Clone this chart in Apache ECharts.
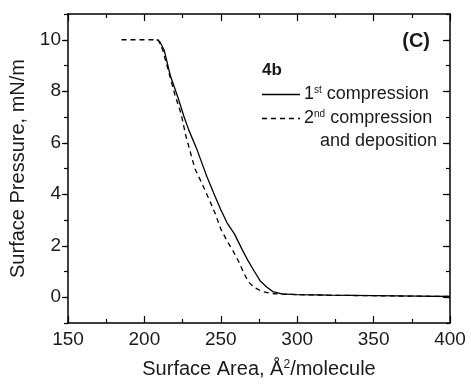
<!DOCTYPE html>
<html><head><meta charset="utf-8">
<script src="https://cdn.jsdelivr.net/npm/echarts@6/dist/echarts.min.js"></script>
<style>html,body{margin:0;padding:0;background:#fff}#c{width:471px;height:384px}</style>
</head><body><div id="c"></div>
<script>
// 1st compression (solid)
var firstX = [208, 210, 213, 217, 222, 226, 229, 234, 238, 241, 246, 250, 254, 259, 264, 268, 272, 276, 280, 284, 290, 300, 320, 350, 380, 400];
var firstY = [10.0, 9.93, 9.59, 8.6, 7.75, 7.0, 6.5, 5.8, 5.15, 4.67, 3.95, 3.4, 2.9, 2.45, 1.85, 1.4, 1.0, 0.62, 0.4, 0.22, 0.13, 0.1, 0.08, 0.06, 0.04, 0.03];
// 2nd compression and deposition (dashed)
var secondX = [185, 209, 212, 215, 220, 224, 227, 230, 233, 237, 242, 246, 250, 254, 258, 262, 265, 268, 272, 277, 282, 286, 300, 320, 350, 380, 400];
var secondY = [10.0, 10.0, 9.6, 8.95, 7.85, 7.13, 6.3, 5.65, 5.0, 4.5, 3.85, 3.3, 2.65, 2.2, 1.8, 1.35, 0.95, 0.6, 0.38, 0.22, 0.16, 0.13, 0.1, 0.08, 0.06, 0.04, 0.03];
var yMajorTicks = [0, 2, 4, 6, 8, 10];
var xTicks = [150, 200, 250, 300, 350, 400];

function pairs(xs, ys) { return xs.map(function (x, i) { return [x, ys[i]]; }); }

var FONT = '"Liberation Sans", Arial, sans-serif';
var FS = 19;     // tick labels
var FT = 20;     // axis titles
var FL = 18;     // legend text
var black = '#000';
var txt = '#1a1a1a';

var chart = echarts.init(document.getElementById('c'), null, { renderer: 'canvas' });
var xBase = { type: 'value', min: 150, max: 400, interval: 50, splitLine: { show: false },
  axisLine: { show: true, onZero: false, lineStyle: { color: black, width: 1.5 } },
  axisTick: { show: true, inside: true, length: 7, lineStyle: { color: black, width: 1.2 } },
  minorTick: { show: true, splitNumber: 2, length: 4, lineStyle: { color: black, width: 1.2 } } };
var yBase = { type: 'value', min: -1, max: 11, splitLine: { show: false } };

chart.setOption({
  animation: false,
  backgroundColor: '#fff',
  grid: { left: 67, right: 21, top: 14, bottom: 61, containLabel: false },
  xAxis: [
    Object.assign({}, xBase, { position: 'bottom',
      axisLabel: { show: true, margin: 7, color: txt, fontSize: FS, fontFamily: FONT },
      name: '{n|Surface Area, Å}{s|2}{n|/molecule}', nameLocation: 'middle', nameGap: 36,
      nameTextStyle: { rich: { n: { fontSize: FT, fontFamily: FONT, color: txt }, s: { fontSize: 12, fontFamily: FONT, color: txt, verticalAlign: 'top' } } } }),
    Object.assign({}, xBase, { position: 'top', axisLabel: { show: false } })
  ],
  yAxis: [
    Object.assign({}, yBase, { position: 'left', interval: 1,
      axisLine: { show: true, onZero: false, lineStyle: { color: black, width: 1.5 } },
      axisTick: { show: true, inside: false, length: 4, lineStyle: { color: black, width: 1.2 } },
      axisLabel: { show: true, margin: 7, color: txt, fontSize: FS, fontFamily: FONT, customValues: yMajorTicks },
      name: 'Surface Pressure, mN/m', nameLocation: 'middle', nameGap: 40,
      nameTextStyle: { fontSize: FT, fontFamily: FONT, color: txt } }),
    Object.assign({}, yBase, { position: 'left',
      axisLine: { show: false },
      axisTick: { show: true, inside: false, length: 6, customValues: yMajorTicks, lineStyle: { color: black, width: 1.2 } },
      axisLabel: { show: false } }),
    Object.assign({}, yBase, { position: 'right', interval: 1,
      axisLine: { show: true, onZero: false, lineStyle: { color: black, width: 1.5 } },
      axisTick: { show: true, inside: true, length: 4, lineStyle: { color: black, width: 1.2 } },
      axisLabel: { show: false } }),
    Object.assign({}, yBase, { position: 'right',
      axisLine: { show: false },
      axisTick: { show: true, inside: true, length: 7, customValues: yMajorTicks, lineStyle: { color: black, width: 1.2 } },
      axisLabel: { show: false } })
  ],
  series: [
    { name: '1st compression', type: 'line', data: pairs(firstX, firstY), showSymbol: false, symbol: 'none',
      lineStyle: { color: black, width: 1.3, type: 'solid' }, z: 3 },
    { name: '2nd compression and deposition', type: 'line', data: pairs(secondX, secondY), showSymbol: false, symbol: 'none',
      lineStyle: { color: black, width: 1.3, type: [5, 4] }, z: 2 }
  ],
  graphic: [
    { type: 'text', x: 430, y: 41, style: { text: '(C)', fontSize: 20, fontWeight: 'bold', fontFamily: FONT, fill: txt, align: 'right', verticalAlign: 'middle' } },
    { type: 'text', x: 262, y: 70, style: { text: '4b', fontSize: 17, fontWeight: 'bold', fontFamily: FONT, fill: txt, align: 'left', verticalAlign: 'middle' } },
    { type: 'line', shape: { x1: 262, y1: 94.5, x2: 300, y2: 94.5 }, style: { stroke: black, lineWidth: 1.3 } },
    { type: 'text', x: 304, y: 94, style: { text: '1{s|st} compression', fontSize: FL, fontFamily: FONT, fill: txt, align: 'left', verticalAlign: 'middle',
      rich: { s: { fontSize: 10, fontFamily: FONT, fill: txt, verticalAlign: 'top' } } } },
    { type: 'line', shape: { x1: 262, y1: 118.5, x2: 300, y2: 118.5 }, style: { stroke: black, lineWidth: 1.3, lineDash: [5, 4] } },
    { type: 'text', x: 304, y: 118, style: { text: '2{s|nd} compression', fontSize: FL, fontFamily: FONT, fill: txt, align: 'left', verticalAlign: 'middle',
      rich: { s: { fontSize: 10, fontFamily: FONT, fill: txt, verticalAlign: 'top' } } } },
    { type: 'text', x: 437, y: 141, style: { text: 'and deposition', fontSize: FL, fontFamily: FONT, fill: txt, align: 'right', verticalAlign: 'middle' } }
  ]
});
</script></body></html>
